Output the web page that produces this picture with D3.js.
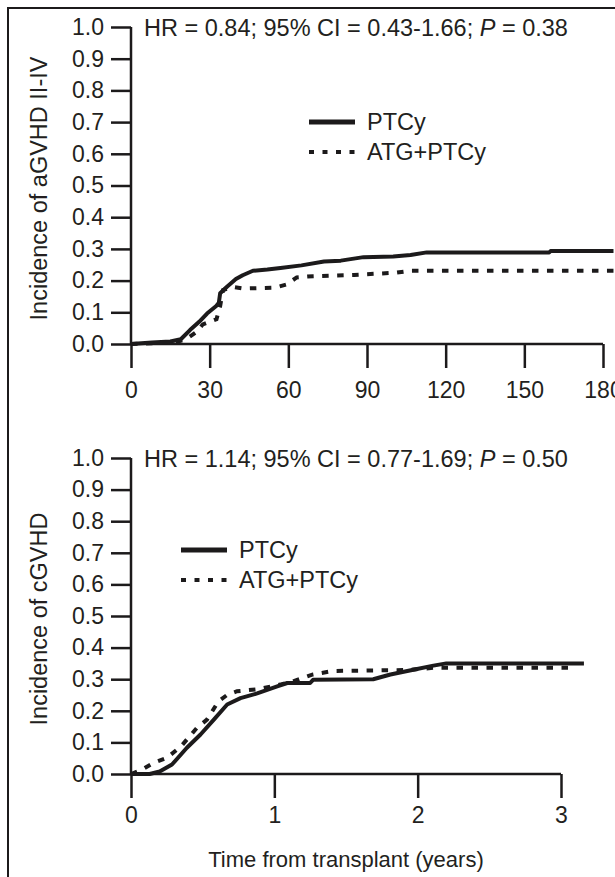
<!DOCTYPE html>
<html>
<head>
<meta charset="utf-8">
<script src="https://cdn.jsdelivr.net/npm/d3@7/dist/d3.min.js"></script>
<style>
  html, body { margin: 0; padding: 0; background: #fff; }
  svg { display: block; }
  text { font-family: "Liberation Sans", Arial, Helvetica, sans-serif; fill: #231f20; }
</style>
</head>
<body>
<script>
// Cumulative incidence of acute GVHD II-IV (days after transplant)
const aDaysPTCy = [0, 8, 15, 19, 22.5, 26, 29, 32.5, 33.5, 34, 36.5, 40, 42.6, 46.5, 52, 57, 65, 73.6, 80, 88.7, 100, 106.6, 112.8, 159.5, 160, 184];
const aIncPTCy  = [0, 0.005, 0.008, 0.015, 0.044, 0.07, 0.096, 0.12, 0.13, 0.16, 0.18, 0.205, 0.217, 0.231, 0.235, 0.24, 0.248, 0.26, 0.263, 0.274, 0.276, 0.281, 0.289, 0.289, 0.293, 0.293];
const aDaysATG  = [0, 10, 18, 21, 25, 27.4, 30, 32.6, 34, 35.1, 39, 42.7, 55, 59.4, 63.2, 69.4, 85, 101, 106.4, 184];
const aIncATG   = [0, 0.003, 0.008, 0.015, 0.038, 0.062, 0.07, 0.078, 0.12, 0.17, 0.18, 0.175, 0.178, 0.188, 0.21, 0.214, 0.218, 0.225, 0.231, 0.231];

// Cumulative incidence of chronic GVHD (years after transplant)
const cYearsPTCy = [0, 0.13, 0.2, 0.286, 0.39, 0.485, 0.578, 0.671, 0.764, 0.88, 1.02, 1.09, 1.25, 1.27, 1.69, 1.81, 1.97, 2.11, 2.2, 3.16];
const cIncPTCy   = [0, 0, 0.008, 0.03, 0.083, 0.125, 0.172, 0.22, 0.24, 0.255, 0.277, 0.288, 0.288, 0.298, 0.30, 0.315, 0.33, 0.343, 0.35, 0.35];
const cYearsATG  = [0, 0.077, 0.157, 0.25, 0.35, 0.46, 0.53, 0.61, 0.67, 0.74, 0.88, 1.04, 1.135, 1.27, 1.41, 1.925, 2.11, 3.09];
const cIncATG    = [0, 0.014, 0.035, 0.051, 0.088, 0.146, 0.172, 0.23, 0.25, 0.262, 0.268, 0.283, 0.294, 0.315, 0.326, 0.329, 0.336, 0.336];

const yTicks = [0, 0.1, 0.2, 0.3, 0.4, 0.5, 0.6, 0.7, 0.8, 0.9, 1.0];
const aXTicks = [0, 30, 60, 90, 120, 150, 180];
const cXTicks = [0, 1, 2, 3];
const seriesNames = ["PTCy", "ATG+PTCy"];

const W = 615, H = 877;
const ink = "#1c1a1b";
const tickFont = 23;
const labelFont = 23.5;
const xTitleFont = 22;

const svg = d3.select("body").append("svg").attr("width", W).attr("height", H);

// Outer frame (top and left edges)
svg.append("path")
  .attr("d", "M8," + H + "V8H" + W)
  .attr("fill", "none").attr("stroke", ink).attr("stroke-width", 2);

function drawPanel(cfg) {
  const x = d3.scaleLinear().domain(cfg.xDomain).range(cfg.xRange);
  const y = d3.scaleLinear().domain([0, 1]).range(cfg.yRange);
  const g = svg.append("g");

  // y axis
  const yAxis = d3.axisLeft(y).tickValues(yTicks).tickFormat(d3.format(".1f"))
    .tickSize(20).tickPadding(7);
  const ya = g.append("g").attr("transform", `translate(${cfg.xRange[0]},0)`).call(yAxis);
  // x axis
  const xAxis = d3.axisBottom(x).tickValues(cfg.xTicks).tickFormat(d3.format("d"))
    .tickSize(24).tickPadding(cfg.xPad);
  const xa = g.append("g").attr("transform", `translate(0,${cfg.yRange[0]})`).call(xAxis);

  [ya, xa].forEach(a => {
    a.select(".domain").attr("stroke", ink).attr("stroke-width", 2.5)
      .attr("d", a === ya ? `M0,${cfg.yRange[1]}V${cfg.yRange[0]}` : `M${cfg.xRange[0]},0H${cfg.xRange[1]}`);
    a.selectAll(".tick line").attr("stroke", ink).attr("stroke-width", 2.5);
    a.selectAll(".tick text").attr("font-size", tickFont)
      .style("font-family", "'Liberation Sans', Arial, sans-serif").attr("fill", "#231f20");
  });

  const line = d3.line().x(d => x(d[0])).y(d => y(d[1])).curve(d3.curveLinear);
  const solid = d3.zip(cfg.solidX, cfg.solidY);
  const dotted = d3.zip(cfg.dotX, cfg.dotY);

  g.append("path").datum(dotted).attr("d", line)
    .attr("fill", "none").attr("stroke", ink).attr("stroke-width", 4)
    .attr("stroke-dasharray", "6.5 8.5");
  g.append("path").datum(solid).attr("d", line)
    .attr("fill", "none").attr("stroke", ink).attr("stroke-width", 4)
    .attr("stroke-linejoin", "round");

  // statistics line
  const stat = g.append("text").attr("x", 144).attr("y", cfg.yRange[1] + 8.5)
    .attr("font-size", labelFont);
  stat.append("tspan").text(cfg.stat);
  stat.append("tspan").attr("font-style", "italic").text("P");
  stat.append("tspan").text(" = " + cfg.p);

  // y axis title
  g.append("text")
    .attr("transform", `translate(47,${(cfg.yRange[0] + cfg.yRange[1]) / 2 + 3}) rotate(-90)`)
    .attr("text-anchor", "middle").attr("font-size", labelFont)
    .text(cfg.yTitle);

  // legend
  const lg = g.append("g").attr("transform", `translate(${cfg.legend[0]},${cfg.legend[1]})`);
  seriesNames.forEach((name, i) => {
    const yy = i * 30;
    lg.append("line").attr("x1", 0).attr("x2", 46).attr("y1", yy).attr("y2", yy)
      .attr("stroke", ink).attr("stroke-width", i === 0 ? 5 : 4)
      .attr("stroke-dasharray", i === 0 ? null : "5 8.5");
    lg.append("text").attr("x", 58).attr("y", yy + 8).attr("font-size", labelFont).text(name);
  });

  if (cfg.xTitle) {
    g.append("text").attr("x", (cfg.xRange[0] + cfg.xRange[1]) / 2 + 0).attr("y", cfg.xTitleY)
      .attr("text-anchor", "middle").attr("font-size", xTitleFont).text(cfg.xTitle);
  }
}

drawPanel({
  xDomain: [0, 180], xRange: [131, 603], yRange: [344, 27], xTicks: aXTicks, xPad: 14,
  solidX: aDaysPTCy, solidY: aIncPTCy, dotX: aDaysATG, dotY: aIncATG,
  stat: "HR = 0.84; 95% CI = 0.43-1.66; ", p: "0.38",
  yTitle: "Incidence of aGVHD II-IV", legend: [309, 122]
});

drawPanel({
  xDomain: [0, 3], xRange: [131, 561], yRange: [774, 458], xTicks: cXTicks, xPad: 9,
  solidX: cYearsPTCy, solidY: cIncPTCy, dotX: cYearsATG, dotY: cIncATG,
  stat: "HR = 1.14; 95% CI = 0.77-1.69; ", p: "0.50",
  yTitle: "Incidence of cGVHD", legend: [181, 550],
  xTitle: "Time from transplant (years)", xTitleY: 867
});
</script>
</body>
</html>
